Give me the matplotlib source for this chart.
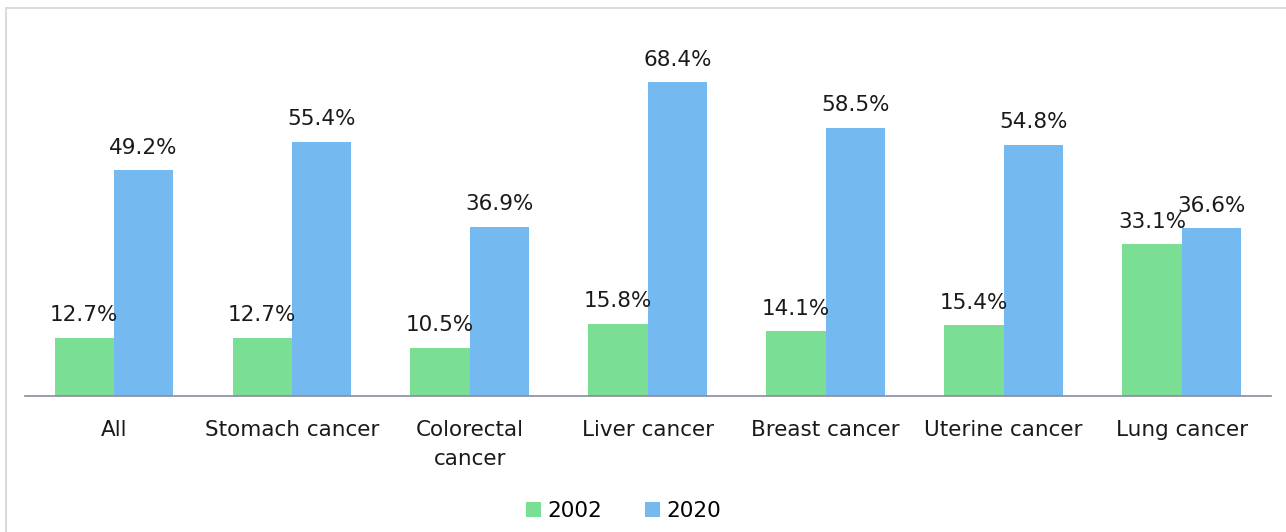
import numpy as np
import matplotlib.pyplot as plt
from matplotlib.patches import Rectangle

# data
categories = ['All', 'Stomach cancer', 'Colorectal\ncancer', 'Liver cancer',
              'Breast cancer', 'Uterine cancer', 'Lung cancer']
vals_2002 = [12.7, 12.7, 10.5, 15.8, 14.1, 15.4, 33.1]
vals_2020 = [49.2, 55.4, 36.9, 68.4, 58.5, 54.8, 36.6]
series = ['2002', '2020']
colors = ['#7ADE94', '#74B9F0']

plt.rcParams['font.family'] = 'DejaVu Sans'

fig = plt.figure(figsize=(12.86, 5.32), dpi=100)
ax = fig.add_axes([0.0194, 0.2556, 0.9686, 0.69])

# light frame around the chart
fig.patches.append(Rectangle((6 / 1286, -0.01), 1.0, 1 - 8 / 532 + 0.01,
                             transform=fig.transFigure, fill=False,
                             edgecolor='#DADAE0', linewidth=1.5))

x = np.arange(len(categories))
w = 1 / 3
b1 = ax.bar(x - w / 2, vals_2002, w, color=colors[0], label=series[0])
b2 = ax.bar(x + w / 2, vals_2020, w, color=colors[1], label=series[1])

for bars in (b1, b2):
    for r in bars:
        h = r.get_height()
        ax.annotate(f'{h:.1f}%', (r.get_x() + r.get_width() / 2, h),
                    xytext=(0, 9), textcoords='offset points',
                    ha='center', va='bottom', fontsize=15.5, color='#1A1A1A')

ax.set_xlim(-0.5, len(categories) - 0.5)
ax.set_ylim(0, 80)
ax.set_xticks(x)
ax.set_xticklabels(categories, fontsize=15.5, color='#1A1A1A', linespacing=1.6)
ax.tick_params(axis='x', length=0, pad=17)
ax.set_yticks([])
for s in ['top', 'right', 'left']:
    ax.spines[s].set_visible(False)
ax.spines['bottom'].set_color('#8A8AA0')
ax.spines['bottom'].set_linewidth(1.2)

fig.legend(loc='lower center', bbox_to_anchor=(0.485, -0.015), ncol=2,
           frameon=False, fontsize=15.5, handlelength=0.7, handleheight=0.7,
           handletextpad=0.3, columnspacing=2.0)

fig.savefig('out.png', dpi=100)
